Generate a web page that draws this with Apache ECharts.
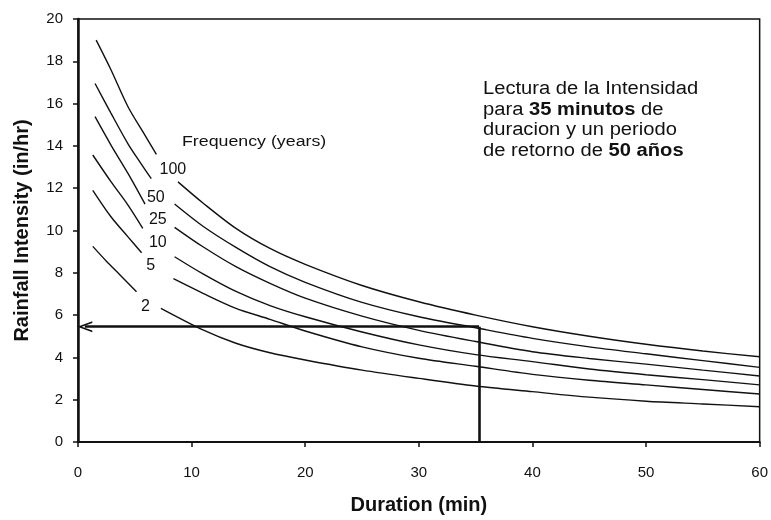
<!DOCTYPE html>
<html>
<head>
<meta charset="utf-8">
<script src="https://cdn.jsdelivr.net/npm/echarts@6.0.0/dist/echarts.min.js"></script>
<style>
  html, body { margin: 0; padding: 0; background: #fff; }
  #idfChart { width: 771px; height: 520px; }
</style>
</head>
<body>
<div id="idfChart"></div>
<script>
// periodos de retorno (curvas IDF)
var freqs = ['100', '50', '25', '10', '5', '2'];

// [duracion (min), intensidad (in/hr)] - '-' corta la curva donde va la etiqueta
var curve100 = [[1.6, 19.0], [2.9, 17.6], [4.4, 15.85], [5.9, 14.5], [6.9, 13.6], [7.8, '-'],
  [8.8, 12.3], [11, 11.3], [13.9, 10.1], [16.9, 9.15], [20, 8.4], [25, 7.4], [30, 6.63],
  [35, 6.0], [40, 5.45], [45, 5.0], [50, 4.62], [55, 4.3], [60, 4.03]];
var curve50 = [[1.5, 16.95], [2.9, 15.55], [4.4, 14.1], [5.5, 13.2], [6.45, 12.45], [7.5, '-'],
  [8.5, 11.25], [11, 10.2], [13.9, 9.2], [16.9, 8.29], [20, 7.55], [25, 6.6], [30, 5.92],
  [35, 5.4], [40, 4.9], [45, 4.5], [50, 4.17], [55, 3.85], [60, 3.53]];
var curve25 = [[1.5, 15.38], [2.9, 14.04], [4.4, 12.7], [5.9, 11.25], [7.2, '-'],
  [8.5, 10.15], [11, 9.23], [13.9, 8.29], [16.9, 7.5], [20, 6.8], [25, 5.95], [30, 5.28],
  [35, 4.75], [40, 4.27], [45, 3.95], [50, 3.68], [55, 3.4], [60, 3.12]];
var curve10 = [[1.3, 13.57], [2.9, 12.31], [4.4, 11.2], [5.7, 10.1], [7.1, '-'],
  [8.5, 8.76], [11, 7.95], [13.9, 7.12], [16.9, 6.45], [20, 5.92], [25, 5.2], [30, 4.59],
  [35, 4.13], [40, 3.8], [45, 3.45], [50, 3.18], [55, 2.95], [60, 2.7]];
var curve5 = [[1.3, 11.9], [2.9, 10.65], [4.4, 9.7], [5.6, 8.95], [7.0, '-'],
  [8.4, 7.72], [11, 7.03], [13.9, 6.32], [16.9, 5.8], [20, 5.25], [25, 4.5], [30, 3.96],
  [35, 3.58], [40, 3.2], [45, 2.92], [50, 2.7], [55, 2.48], [60, 2.27]];
var curve2 = [[1.3, 9.25], [2.5, 8.55], [3.7, 7.9], [5.15, 7.1], [6.2, '-'],
  [7.3, 6.32], [11, 5.3], [13.9, 4.67], [16.9, 4.22], [20, 3.88], [25, 3.4],
  [30, 3.01], [35, 2.65], [40, 2.38], [45, 2.12], [50, 1.93], [55, 1.8], [60, 1.67]];
var curves = [curve100, curve50, curve25, curve10, curve5, curve2];

// donde se escribe el numero de cada curva
var labelPos = [[8.35, 12.86], [6.85, 11.55], [7.03, 10.53], [7.03, 9.45], [6.41, 8.35], [5.93, 6.38]];

// lectura: 35 min, 50 años
var readT = 35.3;
var readI = 5.45;
var arrowEnd = 0.6;

var ink = '#111';
var font = '"Liberation Sans", Arial, sans-serif';

var myChart = echarts.init(document.getElementById('idfChart'));

var series = curves.map(function (c, i) {
  return {
    name: freqs[i],
    type: 'line',
    data: c,
    smooth: 0.3,
    showSymbol: false,
    connectNulls: false,
    silent: true,
    lineStyle: { color: ink, width: 1.4 },
    markPoint: {
      symbol: 'circle',
      symbolSize: 1,
      silent: true,
      itemStyle: { color: 'rgba(0,0,0,0)' },
      label: {
        show: true,
        position: 'inside',
        formatter: freqs[i],
        color: ink,
        fontSize: 16,
        fontFamily: font
      },
      data: [{ coord: labelPos[i] }]
    }
  };
});

// flecha de lectura
series.push({
  type: 'line',
  data: [],
  silent: true,
  markLine: {
    silent: true,
    animation: false,
    label: { show: false },
    lineStyle: { color: ink, width: 2.6, type: 'solid' },
    data: [
      [{ coord: [readT, 0], symbol: 'none' }, { coord: [readT, readI], symbol: 'none' }],
      [{ coord: [readT, readI], symbol: 'none' },
       { coord: [arrowEnd, readI], symbol: 'path://M5,0 L10,14 L8.4,14 L5,4.2 L1.6,14 L0,14 Z', symbolSize: [11, 15] }]
    ]
  }
});

var option = {
  animation: false,
  backgroundColor: '#fff',
  grid: {
    left: 78, right: 10, top: 19, bottom: 78,
    show: true, borderColor: ink, borderWidth: 1.5
  },
  xAxis: {
    type: 'value',
    min: 0, max: 60, interval: 10,
    name: 'Duration (min)',
    nameLocation: 'middle',
    nameGap: 53,
    nameTextStyle: { color: ink, fontSize: 20, fontWeight: 'bold', fontFamily: font },
    axisLine: { show: true, onZero: false, lineStyle: { color: ink, width: 2 } },
    axisTick: { show: true, length: 5, lineStyle: { color: ink, width: 1.5 } },
    splitLine: { show: false },
    axisLabel: { color: ink, fontSize: 15, margin: 23, fontFamily: font, showMinLabel: true, showMaxLabel: true }
  },
  yAxis: {
    type: 'value',
    min: 0, max: 20, interval: 2,
    name: 'Rainfall Intensity (in/hr)',
    nameLocation: 'middle',
    nameGap: 46,
    nameTextStyle: { color: ink, fontSize: 20, fontWeight: 'bold', fontFamily: font },
    axisLine: { show: true, onZero: false, lineStyle: { color: ink, width: 2.5 } },
    axisTick: { show: true, length: 5, lineStyle: { color: ink, width: 1.5 } },
    splitLine: { show: false },
    axisLabel: { color: ink, fontSize: 15, margin: 15, fontFamily: font, showMinLabel: true, showMaxLabel: true }
  },
  graphic: [
    {
      type: 'text',
      left: 182, top: 135,
      scaleX: 1.27,
      style: { text: 'Frequency (years)', fill: ink, fontSize: 14, fontFamily: font }
    },
    {
      type: 'text',
      left: 483, top: 79,
      scaleX: 1.12,
      style: {
        text: 'Lectura de la Intensidad\npara {b|35 minutos} de\nduracion y un periodo\nde retorno de {b|50 años}',
        fill: ink,
        fontSize: 18,
        lineHeight: 20.5,
        fontFamily: font,
        rich: {
          b: { fontWeight: 'bold', fontSize: 18, lineHeight: 20.5, fontFamily: font, fill: ink }
        }
      }
    }
  ],
  series: series
};

myChart.setOption(option);
</script>
</body>
</html>
